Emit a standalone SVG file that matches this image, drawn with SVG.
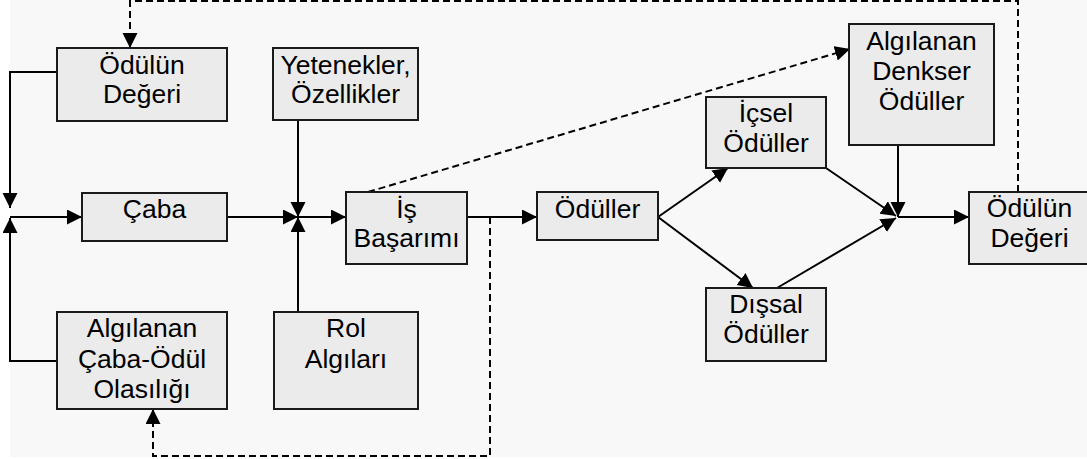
<svg xmlns="http://www.w3.org/2000/svg" width="1087" height="459" viewBox="0 0 1087 459">
<style>
.box{fill:#ebebeb;stroke:#1a1a1a;stroke-width:2}
.t{font-family:"Liberation Sans",Arial,sans-serif;font-size:26.5px;fill:#000;text-anchor:middle}
.c{fill:none;stroke:#000;stroke-width:2}
.d{fill:none;stroke:#000;stroke-width:2;stroke-dasharray:7,4}
</style>
<defs>
<marker id="ah" markerUnits="userSpaceOnUse" markerWidth="16" markerHeight="16" refX="15" refY="7.5" orient="auto">
<path d="M0,0 L15,7.5 L0,15 z" fill="#000"/>
</marker>
</defs>
<rect x="0" y="0" width="1087" height="459" fill="#ffffff"/>
<rect x="10" y="0" width="1077" height="457" fill="#f8f8f8"/>
<g id="connectors">
<path class="c" d="M57,72 H10 V208" marker-end="url(#ah)"/>
<path class="c" d="M57,361 H10 V218" marker-end="url(#ah)"/>
<path class="c" d="M10,217 H82" marker-end="url(#ah)"/>
<path class="c" d="M227,217 H298" marker-end="url(#ah)"/>
<path class="c" d="M298,120 V217" marker-end="url(#ah)"/>
<path class="c" d="M298,312 V217" marker-end="url(#ah)"/>
<path class="c" d="M298,217 H346" marker-end="url(#ah)"/>
<path class="c" d="M467,217 H537" marker-end="url(#ah)"/>
<path class="c" d="M658,217 L728,168" marker-end="url(#ah)"/>
<path class="c" d="M658,217 L753,288" marker-end="url(#ah)"/>
<path class="c" d="M826,168 L896,216" marker-end="url(#ah)"/>
<path class="c" d="M777,288 L896,218" marker-end="url(#ah)"/>
<path class="c" d="M898,145 V217" marker-end="url(#ah)"/>
<path class="c" d="M898,217 H969" marker-end="url(#ah)"/>
<path class="d" d="M1018,192 V1 H130 V48" marker-end="url(#ah)"/>
<path class="d" d="M368,192 L850,49" marker-end="url(#ah)"/>
<path class="d" d="M490,217 V456 H153 V409" marker-end="url(#ah)"/>
</g>
<g id="odulun-degeri-1">
<rect class="box" x="57" y="48" width="170" height="73"/>
<text class="t" x="142" y="74">Ödülün</text>
<text class="t" x="142" y="103">Değeri</text>
</g>
<g id="caba">
<rect class="box" x="82" y="193" width="145" height="48"/>
<text class="t" x="154.5" y="218">Çaba</text>
</g>
<g id="algilanan-caba-odul">
<rect class="box" x="57" y="312" width="170" height="97"/>
<text class="t" x="142" y="337">Algılanan</text>
<text class="t" x="142" y="368">Çaba-Ödül</text>
<text class="t" x="142" y="398">Olasılığı</text>
</g>
<g id="yetenekler">
<rect class="box" x="273" y="48" width="145" height="72"/>
<text class="t" x="345.5" y="74">Yetenekler,</text>
<text class="t" x="345.5" y="103">Özellikler</text>
</g>
<g id="rol-algilari">
<rect class="box" x="274" y="312" width="144" height="97"/>
<text class="t" x="346" y="337">Rol</text>
<text class="t" x="346" y="368">Algıları</text>
</g>
<g id="is-basarimi">
<rect class="box" x="346" y="192" width="121" height="72"/>
<text class="t" x="406.5" y="218">İş</text>
<text class="t" x="406.5" y="247">Başarımı</text>
</g>
<g id="oduller">
<rect class="box" x="537" y="192" width="121" height="48"/>
<text class="t" x="597.5" y="218">Ödüller</text>
</g>
<g id="icsel-oduller">
<rect class="box" x="706" y="97" width="120" height="71"/>
<text class="t" x="766" y="122">İçsel</text>
<text class="t" x="766" y="152">Ödüller</text>
</g>
<g id="dissal-oduller">
<rect class="box" x="706" y="288" width="120" height="73"/>
<text class="t" x="766" y="313">Dışsal</text>
<text class="t" x="766" y="343">Ödüller</text>
</g>
<g id="algilanan-denkser">
<rect class="box" x="849" y="24" width="145" height="121"/>
<text class="t" x="921.5" y="50">Algılanan</text>
<text class="t" x="921.5" y="80">Denkser</text>
<text class="t" x="921.5" y="110">Ödüller</text>
</g>
<g id="odulun-degeri-2">
<rect class="box" x="969" y="192" width="121" height="72"/>
<text class="t" x="1029.5" y="217">Ödülün</text>
<text class="t" x="1029.5" y="247">Değeri</text>
</g>
</svg>
